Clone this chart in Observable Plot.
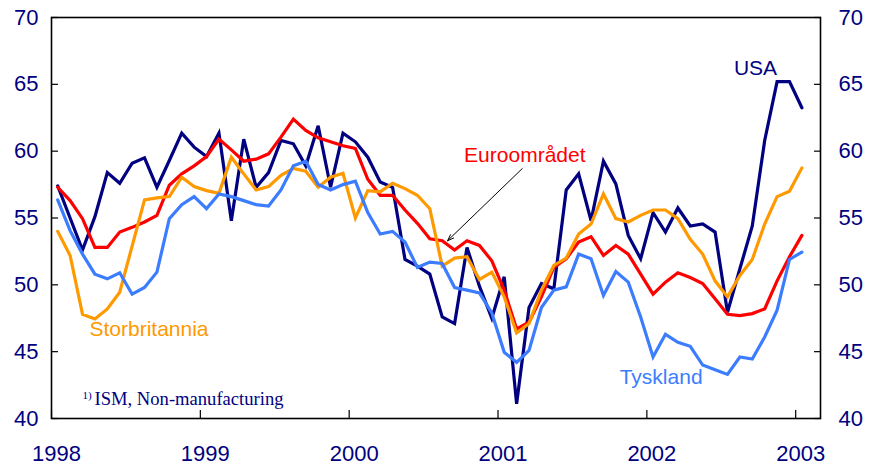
<!DOCTYPE html>
<html>
<head>
<meta charset="utf-8">
<script src="https://cdn.jsdelivr.net/npm/d3@7"></script>
<script src="https://cdn.jsdelivr.net/npm/@observablehq/plot@0.6"></script>
<style>
  html, body { margin: 0; padding: 0; background: #fff; }
</style>
</head>
<body>
<div id="chart"></div>
<script>
// Monthly data, Jan 1998 – Jan 2003
const startYear = 1998;
const nMonths = 61;

const seriesNames = ["USA", "Euroområdet", "Storbritannia", "Tyskland"];
const seriesColors = ["#000080", "#ff0000", "#ff9900", "#3c7cff"];

const usa = [57.4, 55.0, 52.6, 55.1, 58.4, 57.6, 59.1, 59.5, 57.3, 59.3, 61.35, 60.3,
  59.6, 61.35, 54.8, 60.9, 57.3, 58.4, 60.8, 60.55, 58.9, 61.9, 57.3, 61.35,
  60.7, 59.55, 57.7, 57.3, 51.9, 51.4, 50.8, 47.6, 47.1, 52.8, 49.9, 47.5,
  50.6, 41.1, 48.3, 50.1, 49.7, 57.1, 58.3, 54.8, 59.25, 57.55, 53.7, 51.95,
  55.4, 53.95, 55.75, 54.4, 54.55, 53.95, 47.95, 51.2, 54.4, 60.8, 65.2, 65.2,
  63.25];

const euro = [57.3, 56.3, 54.95, 52.8, 52.8, 53.95, 54.3, 54.7, 55.2, 57.45, 58.3, 58.9,
  59.6, 60.9, 60.1, 59.25, 59.4, 59.8, 61.05, 62.4, 61.55, 61.0, 60.7, 60.4,
  60.2, 57.9, 56.7, 56.7, 55.6, 54.6, 53.45, 53.3, 52.6, 53.3, 52.95, 51.8,
  49.6, 46.7, 47.2, 49.1, 51.3, 51.95, 53.2, 53.6, 52.2, 52.95, 52.3, 50.8,
  49.3, 50.2, 50.9, 50.55, 50.1, 48.95, 47.8, 47.7, 47.85, 48.2, 50.3, 52.1,
  53.7];

const uk = [54.0, 52.2, 47.8, 47.45, 48.2, 49.45, 52.9, 56.35, 56.5, 56.6, 58.05, 57.35,
  57.05, 56.85, 59.55, 58.3, 57.1, 57.35, 58.2, 58.7, 58.5, 57.3, 58.05, 58.35,
  55.0, 57.05, 56.95, 57.6, 57.2, 56.7, 55.7, 51.4, 52.0, 52.1, 50.4, 50.95,
  49.1, 46.4, 47.1, 49.6, 51.45, 52.0, 53.8, 54.55, 56.8, 54.95, 54.7, 55.2,
  55.6, 55.6, 54.95, 53.4, 52.3, 50.3, 49.1, 50.7, 51.9, 54.55, 56.6, 57.0,
  58.75];

const de = [56.35, 54.05, 52.3, 50.8, 50.45, 50.9, 49.3, 49.8, 50.95, 54.95, 56.0, 56.6,
  55.7, 56.8, 56.6, 56.3, 56.0, 55.9, 57.1, 58.9, 59.25, 57.5, 57.1, 57.5,
  57.75, 55.4, 53.8, 54.0, 53.2, 51.3, 51.7, 51.6, 49.8, 49.6, 49.4, 47.9,
  44.95, 44.2, 45.1, 48.3, 49.6, 49.85, 52.3, 51.95, 49.2, 51.0, 50.2, 47.6,
  44.6, 46.3, 45.7, 45.4, 44.0, 43.65, 43.3, 44.6, 44.45, 46.1, 48.1, 51.9,
  52.45];

const yTicks = [40, 45, 50, 55, 60, 65, 70];
const xTicks = [1998, 1999, 2000, 2001, 2002, 2003];
const xTickLabels = ["1998", "1999", "2000", "2001", "2002", "2003"];

// Series labels (data coordinates)
const labelNames = ["USA", "Euroområdet", "Storbritannia", "Tyskland"];
const labelX = [2002.73, 2001.18, 1998.655, 2002.096];
const labelY = [66.2, 59.7, 46.65, 43.05];

// Arrow from label to euro line
const arrowFrom = [2001.163, 58.7];
const arrowTo = [2000.661, 53.3];

const footSup = "1)";
const footText = "ISM, Non-manufacturing";

// Build table
const valuesBySeries = [usa, euro, uk, de];
const monthX = d3.range(nMonths).map(i => startYear + (i + 0.5) / 12);
const rows = seriesNames.flatMap((name, s) =>
  valuesBySeries[s].map((v, i) => ({series: name, x: monthX[i], y: v}))
);
const labels = labelNames.map((n, i) => ({name: n, x: labelX[i], y: labelY[i]}));
const arrows = [{x1: arrowFrom[0], y1: arrowFrom[1], x2: arrowTo[0], y2: arrowTo[1]}];

const navy = "#000080";

const chart = Plot.plot({
  width: 869,
  height: 467,
  marginLeft: 51,
  marginRight: 49,
  marginTop: 17,
  marginBottom: 49,
  style: {fontFamily: "'Liberation Sans', Arial, sans-serif", fontSize: "22px", background: "#fff", overflow: "visible"},
  x: {domain: [startYear, startYear + 62 / 12]},
  y: {domain: [40, 70]},
  color: {domain: seriesNames, range: seriesColors},
  marks: [
    Plot.line(rows, {x: "x", y: "y", z: "series", stroke: "series", strokeWidth: 3.2, strokeLinejoin: "miter", strokeMiterlimit: 4}),
    Plot.frame({stroke: "black", strokeWidth: 1.6}),
    // ticks (inward)
    Plot.axisY(yTicks, {anchor: "left", tickSize: -7, fill: null, stroke: "black", strokeWidth: 1.2, label: null}),
    Plot.axisY(yTicks, {anchor: "right", tickSize: -7, fill: null, stroke: "black", strokeWidth: 1.2, label: null}),
    Plot.axisX(xTicks, {anchor: "bottom", tickSize: -8, fill: null, stroke: "black", strokeWidth: 1.2, label: null}),
    // labels
    Plot.axisY(yTicks, {anchor: "left", tickSize: 0, tickPadding: 13, fill: navy, fontSize: 22, label: null}),
    Plot.axisY(yTicks, {anchor: "right", tickSize: 0, tickPadding: 18, fill: navy, fontSize: 22, label: null}),
    Plot.axisX(xTicks, {anchor: "bottom", tickSize: 0, tickPadding: 27, dx: 5, fill: navy, fontSize: 22, label: null,
      tickFormat: (d) => xTickLabels[xTicks.indexOf(d)]}),
    Plot.text(labels, {x: "x", y: "y", text: "name", fill: "name", fontSize: 21, textAnchor: "middle", lineAnchor: "middle"}),
    Plot.arrow(arrows, {x1: "x1", y1: "y1", x2: "x2", y2: "y2", stroke: "black", strokeWidth: 1, headLength: 10, headAngle: 40}),
    Plot.text([footSup], {frameAnchor: "bottom-left", dx: 31, dy: -20, text: d => d, fill: navy, fontSize: 11,
      fontFamily: "'Liberation Serif', 'Times New Roman', serif", textAnchor: "start", lineAnchor: "bottom"}),
    Plot.text([footText], {frameAnchor: "bottom-left", dx: 43, dy: -14, text: d => d, fill: navy, fontSize: 18.6,
      fontFamily: "'Liberation Serif', 'Times New Roman', serif", textAnchor: "start", lineAnchor: "bottom"})
  ]
});

document.getElementById("chart").appendChild(chart);
</script>
</body>
</html>
